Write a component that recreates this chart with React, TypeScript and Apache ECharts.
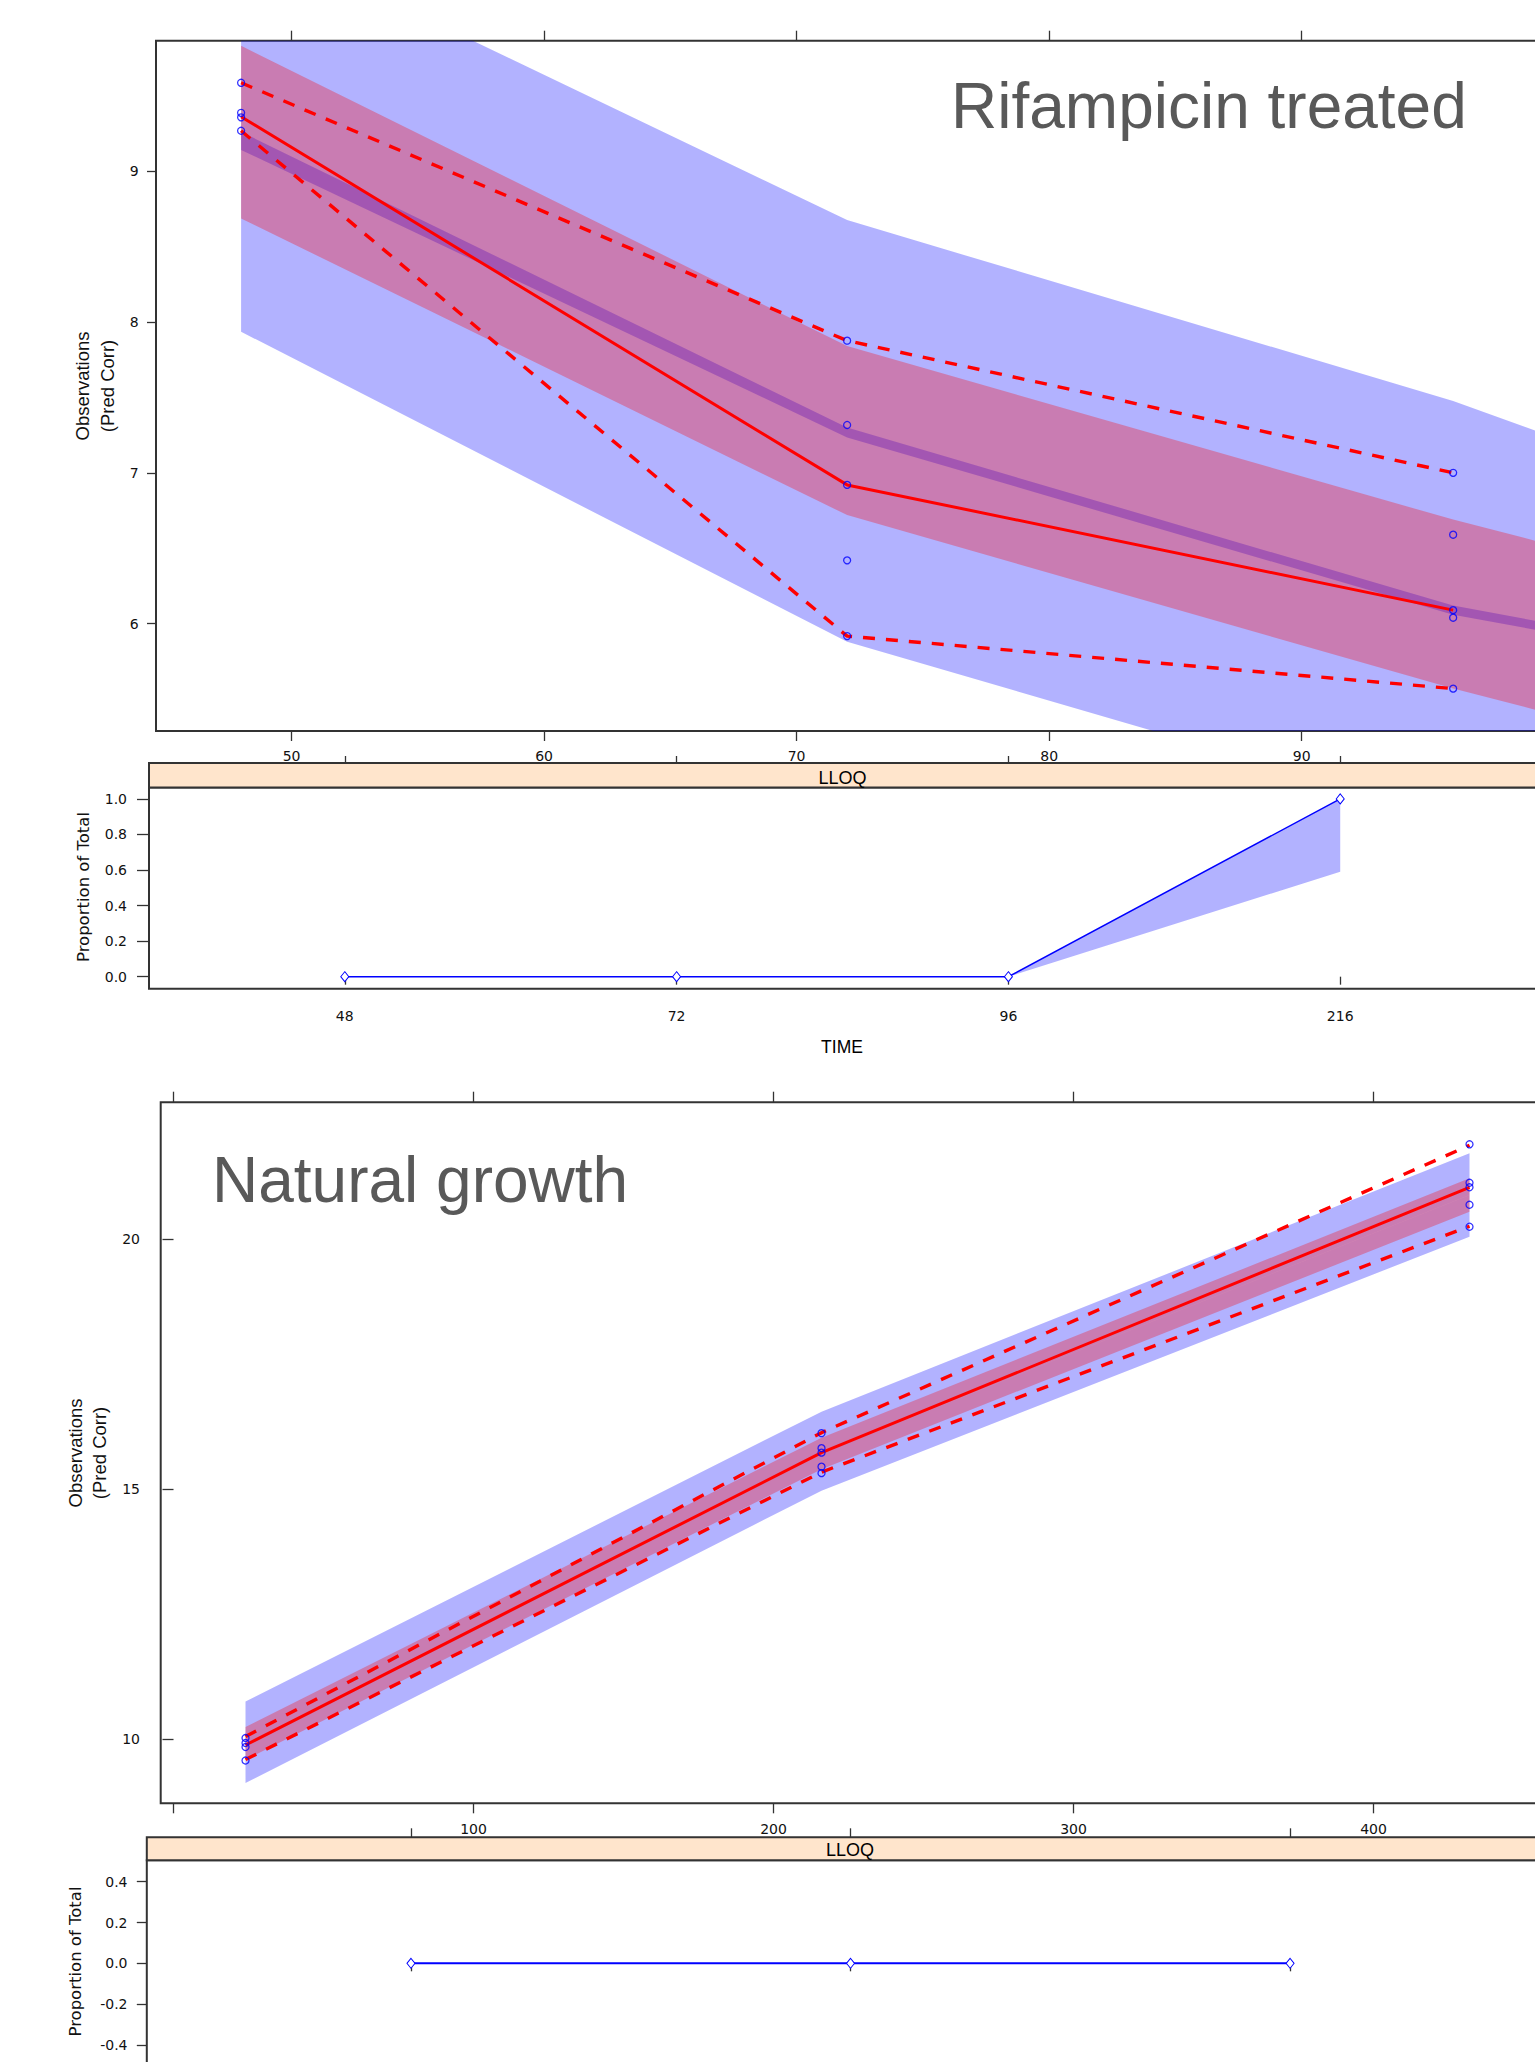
import React, { useEffect, useRef } from 'react';
import * as echarts from 'echarts';

// ---------- Rifampicin treated (top) ----------
const timesR = [48, 72, 96, 216];
const ci5LoR = [7.935, 5.88, 4.71, -1.15];
const ci5HiR = [9.26, 7.3, 6.12, 2.43];
const ci95LoR = [9.14, 7.235, 6.06, 2.37];
const ci95HiR = [10.6, 8.675, 7.476, 0.24];
const ci50LoR = [8.686, 6.72, 5.57, 0.4];
const ci50HiR = [9.83, 7.84, 6.69, 1.52];
const obsTimesR = [48, 72, 96];
const obsMedR = [9.36, 6.92, 6.09];
const obsP05R = [9.267, 5.918, 5.57];
const obsP95R = [9.585, 7.876, 7.0];
const obsValuesR = [
  [9.585, 9.386, 9.356, 9.267],
  [7.876, 7.317, 6.92, 6.42, 5.918],
  [7.0, 6.59, 6.09, 6.04, 5.57],
];
const xTicksR = [50, 60, 70, 80, 90];
const yTicksR = [6, 7, 8, 9];

// LLOQ (top)
const lloqCatsR = ['48', '72', '96', '216'];
const lloqObsR = [0, 0, 0, 1.0];
const lloqLoR = [0, 0, 0, 0.59];
const lloqHiR = [0, 0, 0, 1.0];
const lloqYTicksR = [0, 0.2, 0.4, 0.6, 0.8, 1.0];

// ---------- Natural growth (bottom) ----------
const timesN = [24, 216, 432];
const ci5LoN = [9.12, 14.97, 20.05];
const ci5HiN = [9.91, 15.72, 20.885];
const ci95LoN = [9.91, 15.72, 20.885];
const ci95HiN = [10.75, 16.55, 21.72];
const ci50LoN = [9.586, 15.4, 20.55];
const ci50HiN = [10.24, 16.03, 21.22];
const obsMedN = [9.88, 15.73, 21.04];
const obsP05N = [9.59, 15.34, 20.26];
const obsP95N = [10.05, 16.13, 21.88];
const obsValuesN = [
  [10.02, 9.92, 9.84, 9.57],
  [16.12, 15.82, 15.73, 15.45, 15.32],
  [21.9, 21.13, 21.04, 20.69, 20.25],
];
const xTicksN = [0, 100, 200, 300, 400];
const yTicksN = [10, 15, 20];

// LLOQ (bottom)
const lloqCatsN = ['24', '216', '432'];
const lloqObsN = [0, 0, 0];
const lloqLoN = [0, 0, 0];
const lloqHiN = [0, 0, 0];
const lloqYTicksN = [-0.4, -0.2, 0, 0.2, 0.4];

const FONT_TICK = 'DejaVu Sans';
const FONT_MAIN = 'Liberation Sans';
const BLUE_BAND = 'rgba(0,0,255,0.3)';
const RED_BAND = 'rgba(255,0,0,0.3)';
const FRAME = '#333333';

function valueAxis(gridIndex: number, min: number, max: number, ticks: number[], o: any) {
  return {
    type: 'value',
    gridIndex,
    min,
    max,
    position: o.position,
    offset: o.offset || 0,
    axisLine: { show: false },
    splitLine: { show: false },
    axisTick: {
      show: true,
      inside: false,
      length: o.tickLen,
      customValues: ticks,
      lineStyle: { color: FRAME, width: 1.3 },
    },
    axisLabel: o.labels
      ? {
          show: true,
          customValues: ticks,
          margin: o.margin,
          fontFamily: FONT_TICK,
          fontSize: 14,
          color: '#111',
          formatter: o.formatter,
        }
      : { show: false },
  };
}

function band(xi: number, yi: number, xs: number[], lo: number[], hi: number[], color: string) {
  return {
    type: 'custom',
    xAxisIndex: xi,
    yAxisIndex: yi,
    clip: true,
    silent: true,
    z: 1,
    data: xs.map((x, i) => [x, lo[i], hi[i]]),
    encode: { x: 0, y: [1, 2] },
    renderItem: (params: any, api: any) => {
      if (params.dataIndexInside !== 0) return null;
      const n = params.dataInsideLength;
      const top: number[][] = [];
      const bot: number[][] = [];
      for (let i = 0; i < n; i++) {
        top.push(api.coord([api.value(0, i), api.value(2, i)]));
        bot.push(api.coord([api.value(0, i), api.value(1, i)]));
      }
      return {
        type: 'polygon',
        shape: { points: top.concat(bot.reverse()) },
        style: { fill: color },
      };
    },
  };
}

function redLine(xi: number, yi: number, xs: number[], ys: number[], dashed: boolean) {
  return {
    type: 'line',
    xAxisIndex: xi,
    yAxisIndex: yi,
    data: xs.map((x, i) => [x, ys[i]]),
    showSymbol: false,
    symbol: 'none',
    silent: true,
    z: 3,
    lineStyle: { color: '#ff0000', width: dashed ? 3.4 : 3, type: dashed ? [12, 11] : 'solid' },
  };
}

function obsScatter(xi: number, yi: number, xs: number[], vals: number[][]) {
  const data: number[][] = [];
  xs.forEach((x, i) => vals[i].forEach((v) => data.push([x, v])));
  return {
    type: 'scatter',
    xAxisIndex: xi,
    yAxisIndex: yi,
    data,
    symbol: 'circle',
    symbolSize: 7,
    silent: true,
    z: 4,
    itemStyle: { color: 'rgba(0,0,0,0)', borderColor: '#0000ff', borderWidth: 1.3 },
  };
}

function lloqLine(xi: number, yi: number, cats: string[], ys: number[], w: number) {
  return {
    type: 'line',
    xAxisIndex: xi,
    yAxisIndex: yi,
    data: cats.map((_, i) => [i + 1, ys[i]]),
    symbol: 'diamond',
    symbolSize: [8, 10],
    showSymbol: true,
    silent: true,
    z: 4,
    lineStyle: { color: '#0000ff', width: w },
    itemStyle: { color: '#ffffff', borderColor: '#0000ff', borderWidth: 1 },
  };
}

function text(x: number, y: number, t: string, size: number, family: string, color: string, extra: any = {}) {
  return {
    type: 'text',
    x,
    y,
    z: 20,
    silent: true,
    ...extra,
    style: {
      text: t,
      fontSize: size,
      fontFamily: family,
      fill: color,
      textAlign: extra.align || 'center',
      textVerticalAlign: 'middle',
      align: extra.align || 'center',
      verticalAlign: 'middle',
      lineHeight: extra.lineHeight,
    },
  };
}

export default function App() {
  const ref = useRef<HTMLDivElement>(null);
  useEffect(() => {
    if (!ref.current) return;
    const chart = echarts.init(ref.current, undefined, { renderer: 'svg' });
    const catIdx = (v: number, cats: string[]) => cats[Math.round(v) - 1] ?? '';
    const option: any = {
      animation: false,
      backgroundColor: '#ffffff',
      grid: [
        { left: 156, top: 40.7, width: 1382, height: 690.3, show: true, borderColor: FRAME, borderWidth: 2 },
        { left: 149, top: 787.5, width: 1387, height: 201.2, show: true, borderColor: FRAME, borderWidth: 2 },
        { left: 160.7, top: 1102.3, width: 1395, height: 701, show: true, borderColor: FRAME, borderWidth: 2 },
        { left: 146.8, top: 1860.3, width: 1407, height: 205, show: true, borderColor: FRAME, borderWidth: 2 },
      ],
      xAxis: [
        valueAxis(0, 44.63, 99.36, xTicksR, { position: 'bottom', tickLen: 10, labels: true, margin: 18 }),
        valueAxis(0, 44.63, 99.36, xTicksR, { position: 'top', tickLen: 10, labels: false }),
        valueAxis(1, 0.41, 4.59, [1, 2, 3, 4], {
          position: 'bottom', tickLen: 8, labels: true, margin: 20,
          formatter: (v: number) => catIdx(v, lloqCatsR),
        }),
        valueAxis(1, 0.41, 4.59, [1, 2, 3, 4], { position: 'top', tickLen: 7, labels: false, offset: 24.5 }),
        valueAxis(2, -4.27, 460.73, xTicksN, {
          position: 'bottom', tickLen: 10, labels: true, margin: 18.7,
          formatter: (v: number) => (v === 0 ? '' : String(v)),
        }),
        valueAxis(2, -4.27, 460.73, xTicksN, { position: 'top', tickLen: 10.6, labels: false }),
        valueAxis(3, 0.399, 3.6, [1, 2, 3], { position: 'bottom', tickLen: 8, labels: false }),
        valueAxis(3, 0.399, 3.6, [1, 2, 3], { position: 'top', tickLen: 9, labels: false, offset: 23 }),
      ],
      yAxis: [
        valueAxis(0, 5.289, 9.864, yTicksR, { position: 'left', tickLen: 9, labels: true, margin: 17.3 }),
        valueAxis(1, -0.0676, 1.064, lloqYTicksR, {
          position: 'left', tickLen: 12, labels: true, margin: 22,
          formatter: (v: number) => v.toFixed(1),
        }),
        valueAxis(2, 8.714, 22.74, yTicksN, { position: 'left', tickLen: 11, labels: true, margin: 20.7 }),
        valueAxis(3, -0.5, 0.505, lloqYTicksN, {
          position: 'left', tickLen: 10, labels: true, margin: 19.3,
          formatter: (v: number) => v.toFixed(1),
        }),
      ],
      series: [
        // Top main panel
        band(0, 0, timesR, ci5LoR, ci5HiR, BLUE_BAND),
        band(0, 0, timesR, ci95LoR, ci95HiR, BLUE_BAND),
        band(0, 0, timesR, ci50LoR, ci50HiR, RED_BAND),
        redLine(0, 0, obsTimesR, obsP95R, true),
        redLine(0, 0, obsTimesR, obsP05R, true),
        redLine(0, 0, obsTimesR, obsMedR, false),
        obsScatter(0, 0, obsTimesR, obsValuesR),
        // Top LLOQ
        band(2, 1, [1, 2, 3, 4], lloqLoR, lloqHiR, BLUE_BAND),
        lloqLine(2, 1, lloqCatsR, lloqObsR, 1.5),
        // Bottom main panel
        band(4, 2, timesN, ci5LoN, ci5HiN, BLUE_BAND),
        band(4, 2, timesN, ci95LoN, ci95HiN, BLUE_BAND),
        band(4, 2, timesN, ci50LoN, ci50HiN, RED_BAND),
        redLine(4, 2, timesN, obsP95N, true),
        redLine(4, 2, timesN, obsP05N, true),
        redLine(4, 2, timesN, obsMedN, false),
        obsScatter(4, 2, timesN, obsValuesN),
        // Bottom LLOQ
        band(6, 3, [1, 2, 3], lloqLoN, lloqHiN, BLUE_BAND),
        lloqLine(6, 3, lloqCatsN, lloqObsN, 2),
      ],
      graphic: [
        { type: 'rect', z: 10, silent: true, shape: { x: 149, y: 763, width: 1400, height: 24.5 },
          style: { fill: '#FFE5CC', stroke: FRAME, lineWidth: 2 } },
        { type: 'rect', z: 10, silent: true, shape: { x: 146.8, y: 1837.3, width: 1410, height: 23 },
          style: { fill: '#FFE5CC', stroke: FRAME, lineWidth: 2 } },
        text(842.5, 777.8, 'LLOQ', 18, FONT_MAIN, '#000'),
        text(850, 1850, 'LLOQ', 18, FONT_MAIN, '#000'),
        text(842, 1047, 'TIME', 17.5, FONT_MAIN, '#000'),
        text(951, 105.5, 'Rifampicin treated', 64, FONT_MAIN, '#595959', { align: 'left' }),
        text(212, 1179.5, 'Natural growth', 64, FONT_MAIN, '#595959', { align: 'left' }),
        text(95, 386, 'Observations\n(Pred Corr)', 18.5, FONT_MAIN, '#111', { rotation: Math.PI / 2, lineHeight: 25 }),
        text(87.5, 1453, 'Observations\n(Pred Corr)', 18.5, FONT_MAIN, '#111', { rotation: Math.PI / 2, lineHeight: 24 }),
        text(83, 887, 'Proportion of Total', 16.5, FONT_TICK, '#111', { rotation: Math.PI / 2 }),
        text(75, 1961.5, 'Proportion of Total', 16.5, FONT_TICK, '#111', { rotation: Math.PI / 2 }),
      ],
    };
    chart.setOption(option);
    return () => chart.dispose();
  }, []);
  return (
    <div style={{ position: 'absolute', left: 0, top: 0, width: 1535, height: 2062, overflow: 'hidden' }}>
      <div ref={ref} style={{ width: 1600, height: 2140 }} />
    </div>
  );
}
